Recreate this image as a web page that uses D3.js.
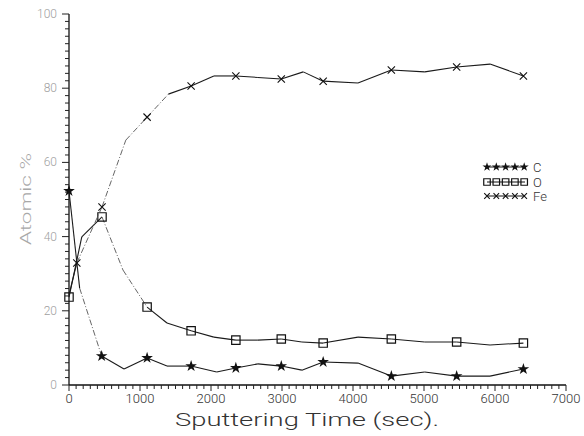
<!DOCTYPE html>
<html>
<head>
<meta charset="utf-8">
<script src="https://cdn.jsdelivr.net/npm/d3@7"></script>
<style>
  body { margin: 0; background: #fff; }
  svg { display: block; }
</style>
</head>
<body>
<div id="chart"></div>
<script>
// sputtering time (sec) and atomic % for each element
const timeC = [0, 150, 460, 775, 1100, 1380, 1720, 2080, 2350, 2660, 2990, 3280, 3580, 4070, 4540, 5010, 5460, 5930, 6400];
const valC  = [52.3, 26.1, 7.8, 4.3, 7.3, 5.1, 5.1, 3.5, 4.6, 5.7, 5.1, 4.0, 6.2, 5.9, 2.4, 3.5, 2.4, 2.4, 4.3];
const markC = [0, 2, 4, 6, 8, 10, 12, 14, 16, 18];

const timeO = [0, 180, 465, 760, 1100, 1380, 1720, 2040, 2350, 2660, 2990, 3280, 3580, 4070, 4540, 5010, 5460, 5930, 6400];
const valO  = [23.7, 39.9, 45.3, 31.0, 21.0, 16.7, 14.6, 12.9, 12.1, 12.1, 12.4, 11.6, 11.3, 12.9, 12.4, 11.6, 11.6, 10.8, 11.3];
const markO = [0, 2, 4, 6, 8, 10, 12, 14, 16, 18];

const timeFe = [0, 110, 465, 800, 1100, 1400, 1720, 2040, 2350, 2660, 2990, 3300, 3580, 4070, 4540, 5010, 5460, 5930, 6400];
const valFe  = [24.3, 32.9, 48.0, 66.0, 72.2, 78.4, 80.6, 83.3, 83.3, 82.9, 82.5, 84.4, 81.9, 81.4, 84.9, 84.4, 85.7, 86.5, 83.3];
const markFe = [1, 2, 4, 6, 8, 10, 12, 14, 16, 18];

const xTicks = [0, 1000, 2000, 3000, 4000, 5000, 6000, 7000];
const yTicks = [0, 20, 40, 60, 80, 100];
const legendNames = ["C", "O", "Fe"];

const width = 584, height = 436;

const svg = d3.select("#chart").append("svg")
  .attr("width", width)
  .attr("height", height);

const x = d3.scaleLinear().domain([0, 7000]).range([69, 566]);
const y = d3.scaleLinear().domain([0, 100]).range([385, 14]);

const font = "Roboto, 'Liberation Sans', sans-serif";

// y axis: line, minor ticks every 2, labels every 20
svg.append("line")
  .attr("x1", x(0)).attr("x2", x(0))
  .attr("y1", y(0)).attr("y2", y(100))
  .attr("stroke", "#111").attr("stroke-width", 1.3);

svg.selectAll(".ytick")
  .data(d3.range(0, 101, 2))
  .enter()
  .append("line")
  .attr("x1", x(0))
  .attr("x2", d => x(0) - (d % 20 === 0 ? 7 : 4))
  .attr("y1", d => y(d)).attr("y2", d => y(d))
  .attr("stroke", "#222").attr("stroke-width", 1);

svg.selectAll(".ylab")
  .data(yTicks)
  .enter()
  .append("text")
  .attr("x", 57)
  .attr("y", d => y(d) + 4)
  .attr("text-anchor", "end")
  .attr("font-family", font)
  .attr("font-weight", 300)
  .attr("font-size", 12)
  .attr("fill", "#a0a0a0")
  .text(d => d);

// x axis: line, minor ticks every 100
svg.append("line")
  .attr("x1", x(0)).attr("x2", x(7000))
  .attr("y1", y(0)).attr("y2", y(0))
  .attr("stroke", "#111").attr("stroke-width", 1.3);

svg.selectAll(".xtick")
  .data(d3.range(0, 7001, 100))
  .enter()
  .append("line")
  .attr("x1", d => x(d)).attr("x2", d => x(d))
  .attr("y1", y(0))
  .attr("y2", d => y(0) + (d % 1000 === 0 ? 6 : 4))
  .attr("stroke", "#222").attr("stroke-width", 1);

svg.selectAll(".xlab")
  .data(xTicks)
  .enter()
  .append("text")
  .attr("x", d => x(d))
  .attr("y", 403)
  .attr("text-anchor", "middle")
  .attr("font-family", font)
  .attr("font-weight", 300)
  .attr("font-size", 13)
  .attr("fill", "#333")
  .text(d => d);

// axis titles
svg.append("text")
  .attr("x", 175)
  .attr("y", 426)
  .attr("font-family", font)
  .attr("font-weight", 300)
  .attr("font-size", 18)
  .attr("fill", "#333")
  .attr("textLength", 264)
  .attr("lengthAdjust", "spacingAndGlyphs")
  .text("Sputtering Time (sec).");

svg.append("text")
  .attr("transform", "translate(31,245) rotate(-90)")
  .attr("font-family", font)
  .attr("font-weight", 300)
  .attr("font-size", 15)
  .attr("fill", "#a8a8a8")
  .attr("textLength", 92)
  .attr("lengthAdjust", "spacingAndGlyphs")
  .text("Atomic %");

// series
const series = [
  { name: "C", t: timeC, v: valC, marks: markC, symbol: "star" },
  { name: "O", t: timeO, v: valO, marks: markO, symbol: "square" },
  { name: "Fe", t: timeFe, v: valFe, marks: markFe, symbol: "times" }
];

function drawSymbol(g, kind, cx, cy, scale) {
  if (kind === "star") {
    g.append("path")
      .attr("d", d3.symbol(d3.symbolStar, 42 * scale * scale)())
      .attr("transform", `translate(${cx},${cy})`)
      .attr("fill", "#111");
  } else if (kind === "square") {
    g.append("path")
      .attr("d", d3.symbol(d3.symbolSquare, 70 * scale * scale)())
      .attr("transform", `translate(${cx},${cy})`)
      .attr("fill", "none")
      .attr("stroke", "#111")
      .attr("stroke-width", 1.2);
  } else {
    g.append("path")
      .attr("d", d3.symbol(d3.symbolTimes, 36 * scale * scale)())
      .attr("transform", `translate(${cx},${cy})`)
      .attr("fill", "none")
      .attr("stroke", "#111")
      .attr("stroke-width", 1.1);
  }
}

series.forEach(function (s) {
  const g = svg.append("g");
  const pts = s.t.map((t, i) => [x(t), y(s.v[i])]);

  // steep segments came out broken in the original print
  for (let i = 0; i < pts.length - 1; i++) {
    const dx = pts[i + 1][0] - pts[i][0];
    const dy = Math.abs(pts[i + 1][1] - pts[i][1]);
    const steep = dy / dx > 1.05 && dx >= 15;
    g.append("line")
      .attr("x1", pts[i][0]).attr("y1", pts[i][1])
      .attr("x2", pts[i + 1][0]).attr("y2", pts[i + 1][1])
      .attr("stroke", steep ? "#555" : "#1a1a1a")
      .attr("stroke-width", steep ? 0.9 : 1.1)
      .attr("stroke-dasharray", steep ? "6,2,1,2" : null);
  }

  s.marks.forEach(function (i) {
    drawSymbol(g, s.symbol, pts[i][0], pts[i][1], 1);
  });
});

// legend
const legend = svg.append("g");
const legendY = [167, 182, 196];
series.forEach(function (s, k) {
  const ly = legendY[k];
  legend.append("line")
    .attr("x1", 487).attr("x2", 525)
    .attr("y1", ly).attr("y2", ly)
    .attr("stroke", "#111").attr("stroke-width", 1);
  d3.range(5).forEach(function (j) {
    drawSymbol(legend, s.symbol, 487 + j * 9.3, ly, 0.78);
  });
  legend.append("text")
    .attr("x", 533)
    .attr("y", ly + 5)
    .attr("font-family", font)
    .attr("font-weight", 300)
    .attr("font-size", 13)
    .attr("fill", "#333")
    .text(legendNames[k]);
});
</script>
</body>
</html>
